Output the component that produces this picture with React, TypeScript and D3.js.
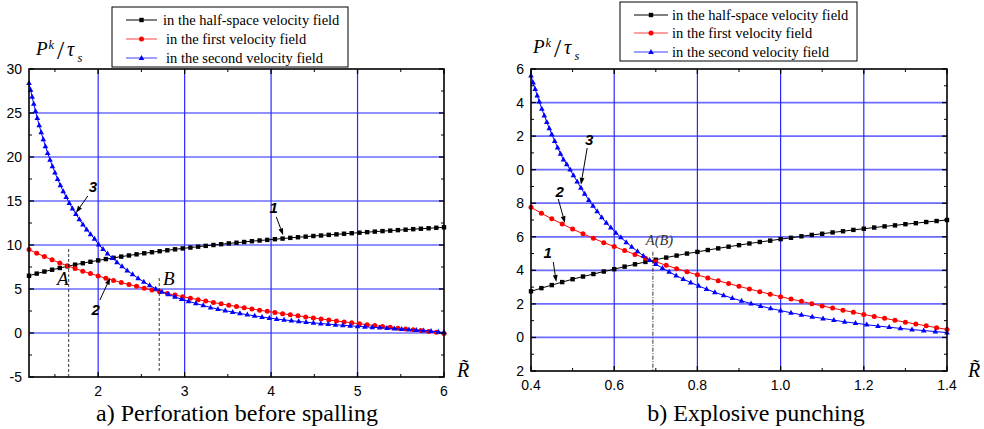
import React from "react";
import * as d3 from "d3";

// ---------- DATA ----------
const L_X = [1.2, 1.289, 1.378, 1.467, 1.556, 1.644, 1.733, 1.822, 1.911, 2.0, 2.089, 2.178, 2.267, 2.356, 2.444, 2.533, 2.622, 2.711, 2.8, 2.889, 2.978, 3.067, 3.156, 3.244, 3.333, 3.422, 3.511, 3.6, 3.689, 3.778, 3.867, 3.956, 4.044, 4.133, 4.222, 4.311, 4.4, 4.489, 4.578, 4.667, 4.756, 4.844, 4.933, 5.022, 5.111, 5.2, 5.289, 5.378, 5.467, 5.556, 5.644, 5.733, 5.822, 5.911, 6.0];
const L_HALF = [6.5, 6.75, 6.98, 7.19, 7.39, 7.58, 7.76, 7.93, 8.09, 8.25, 8.4, 8.54, 8.68, 8.81, 8.94, 9.06, 9.18, 9.29, 9.4, 9.51, 9.61, 9.71, 9.81, 9.9, 10.0, 10.09, 10.18, 10.26, 10.34, 10.43, 10.51, 10.58, 10.66, 10.73, 10.81, 10.88, 10.95, 11.02, 11.08, 11.15, 11.21, 11.28, 11.34, 11.4, 11.46, 11.52, 11.58, 11.63, 11.69, 11.74, 11.8, 11.85, 11.9, 11.96, 12.01];
const L_FIRST = [9.5, 9.07, 8.68, 8.31, 7.96, 7.64, 7.33, 7.03, 6.75, 6.48, 6.23, 5.98, 5.74, 5.52, 5.3, 5.09, 4.88, 4.69, 4.5, 4.31, 4.13, 3.96, 3.79, 3.63, 3.47, 3.31, 3.16, 3.01, 2.87, 2.73, 2.59, 2.46, 2.33, 2.2, 2.07, 1.95, 1.83, 1.71, 1.6, 1.48, 1.37, 1.26, 1.16, 1.05, 0.95, 0.84, 0.74, 0.65, 0.55, 0.45, 0.36, 0.27, 0.18, 0.09, -0.05];
const L_X2 = [1.2, 1.218, 1.236, 1.255, 1.275, 1.296, 1.318, 1.341, 1.365, 1.39, 1.416, 1.443, 1.471, 1.5, 1.531, 1.563, 1.596, 1.63, 1.666, 1.703, 1.742, 1.782, 1.824, 1.867, 1.912, 1.958, 2.006, 2.056, 2.108, 2.162, 2.218, 2.276, 2.336, 2.398, 2.462, 2.528, 2.596, 2.666, 2.738, 2.812, 2.888, 2.966, 3.045, 3.13, 3.215, 3.3, 3.385, 3.47, 3.555, 3.64, 3.725, 3.81, 3.895, 3.98, 4.065, 4.15, 4.235, 4.32, 4.405, 4.49, 4.575, 4.66, 4.745, 4.83, 4.915, 5.0, 5.085, 5.17, 5.255, 5.34, 5.425, 5.51, 5.595, 5.68, 5.765, 5.85, 5.935, 6.0];
const L_SECOND = [28.4, 27.64, 26.84, 26.03, 25.22, 24.41, 23.6, 22.8, 22.0, 21.22, 20.45, 19.69, 18.95, 18.22, 17.49, 16.78, 16.1, 15.43, 14.77, 14.14, 13.51, 12.91, 12.32, 11.76, 11.22, 10.69, 10.05, 9.52, 9.02, 8.52, 8.04, 7.56, 7.1, 6.66, 6.22, 5.81, 5.41, 5.03, 4.68, 4.38, 4.1, 3.84, 3.6, 3.36, 3.13, 2.9, 2.72, 2.54, 2.38, 2.22, 2.08, 1.94, 1.82, 1.7, 1.59, 1.49, 1.4, 1.31, 1.23, 1.15, 1.08, 1.01, 0.94, 0.88, 0.82, 0.76, 0.7, 0.65, 0.6, 0.55, 0.5, 0.45, 0.4, 0.34, 0.28, 0.21, 0.13, 0.06];

const R_X = [0.4, 0.425, 0.45, 0.475, 0.5, 0.525, 0.55, 0.575, 0.6, 0.625, 0.65, 0.675, 0.7, 0.725, 0.75, 0.775, 0.8, 0.825, 0.85, 0.875, 0.9, 0.925, 0.95, 0.975, 1.0, 1.025, 1.05, 1.075, 1.1, 1.125, 1.15, 1.175, 1.2, 1.225, 1.25, 1.275, 1.3, 1.325, 1.35, 1.375, 1.4];
const R_HALF = [2.75, 2.94, 3.12, 3.3, 3.47, 3.63, 3.78, 3.93, 4.07, 4.22, 4.36, 4.5, 4.63, 4.76, 4.88, 5.0, 5.1, 5.21, 5.31, 5.41, 5.5, 5.6, 5.69, 5.77, 5.86, 5.94, 6.03, 6.11, 6.18, 6.26, 6.33, 6.41, 6.48, 6.55, 6.62, 6.68, 6.75, 6.81, 6.88, 6.94, 7.0];
const R_FIRST = [7.76, 7.4, 7.07, 6.76, 6.46, 6.18, 5.91, 5.65, 5.42, 5.18, 4.95, 4.72, 4.51, 4.3, 4.1, 3.91, 3.73, 3.55, 3.38, 3.21, 3.05, 2.89, 2.73, 2.58, 2.43, 2.29, 2.15, 2.01, 1.88, 1.75, 1.62, 1.5, 1.37, 1.25, 1.14, 1.02, 0.91, 0.8, 0.69, 0.58, 0.48];
const R_X2 = [0.4, 0.405, 0.41, 0.415, 0.42, 0.426, 0.432, 0.438, 0.444, 0.45, 0.457, 0.464, 0.471, 0.478, 0.486, 0.494, 0.502, 0.511, 0.52, 0.529, 0.539, 0.549, 0.559, 0.57, 0.581, 0.592, 0.604, 0.616, 0.629, 0.642, 0.656, 0.67, 0.685, 0.7, 0.716, 0.732, 0.749, 0.766, 0.784, 0.803, 0.822, 0.842, 0.863, 0.884, 0.906, 0.929, 0.952, 0.976, 1.0, 1.025, 1.05, 1.076, 1.102, 1.128, 1.154, 1.18, 1.207, 1.234, 1.261, 1.288, 1.316, 1.344, 1.372, 1.4];
const R_SECOND = [15.6, 15.19, 14.8, 14.42, 14.05, 13.63, 13.22, 12.83, 12.46, 12.1, 11.7, 11.32, 10.95, 10.6, 10.32, 10.0, 9.66, 9.29, 8.91, 8.56, 8.19, 7.84, 7.51, 7.16, 6.83, 6.54, 6.24, 5.96, 5.67, 5.4, 5.13, 4.87, 4.61, 4.37, 4.13, 3.91, 3.68, 3.48, 3.27, 3.07, 2.88, 2.69, 2.51, 2.34, 2.18, 2.02, 1.87, 1.73, 1.6, 1.47, 1.35, 1.23, 1.13, 1.03, 0.93, 0.85, 0.76, 0.68, 0.61, 0.54, 0.47, 0.41, 0.35, 0.29];

const L_Y_TICKS = [-5, 0, 5, 10, 15, 20, 25, 30];
const L_Y_MINOR = [-2.5, 2.5, 7.5, 12.5, 17.5, 22.5, 27.5];
const L_X_TICKS = [2, 3, 4, 5, 6];
const L_X_MINOR = [1.5, 2.5, 3.5, 4.5, 5.5];
const L_X_LABELS = ["2", "3", "4", "5", "6"];
const L_Y_LABELS = ["-5", "0", "5", "10", "15", "20", "25", "30"];

const R_Y_TICKS = [-2, 0, 2, 4, 6, 8, 10, 12, 14, 16];
const R_Y_MINOR = [-1, 1, 3, 5, 7, 9, 11, 13, 15];
const R_Y_LABELS = ["2", "0", "2", "4", "6", "8", "0", "2", "4", "6"];
const R_X_TICKS = [0.4, 0.6, 0.8, 1.0, 1.2, 1.4];
const R_X_MINOR = [0.5, 0.7, 0.9, 1.1, 1.3];
const R_X_LABELS = ["0.4", "0.6", "0.8", "1.0", "1.2", "1.4"];

const LEGEND_LABELS = ["in the half-space velocity field", "in the first velocity field", "in the second velocity field"];
const TITLES = ["a) Perforation before spalling", "b) Explosive punching"];

const COLORS = ["#000000", "#ff0000", "#0000ff"];
const MARKERS = ["square", "circle", "triangle"];

const SERIF = "Liberation Serif";
const SANS = "Liberation Sans";

function Marker({ type, x, y, color }: { type: string; x: number; y: number; color: string }) {
  if (type === "square") return <rect x={x - 2.2} y={y - 2.2} width={4.4} height={4.4} fill={color} />;
  if (type === "circle") return <circle cx={x} cy={y} r={2.5} fill={color} />;
  return <path d={`M${x},${y - 3.1}L${x + 2.8},${y + 1.9}L${x - 2.8},${y + 1.9}Z`} fill={color} />;
}

function Arrow({ x1, y1, x2, y2 }: { x1: number; y1: number; x2: number; y2: number }) {
  const ang = Math.atan2(y2 - y1, x2 - x1);
  const L = 7, W = 2.4;
  const bx = x2 - L * Math.cos(ang), by = y2 - L * Math.sin(ang);
  const px = -Math.sin(ang) * W, py = Math.cos(ang) * W;
  return (
    <g>
      <line x1={x1} y1={y1} x2={bx} y2={by} stroke="#000" strokeWidth={1} />
      <path d={`M${x2},${y2}L${bx + px},${by + py}L${bx - px},${by - py}Z`} fill="#000" />
    </g>
  );
}

type PanelProps = {
  x0: number; x1: number; y0: number; y1: number;
  xDomain: [number, number]; yDomain: [number, number];
  xsList: number[][]; series: number[][];
  xTicks: number[]; xMinor: number[]; xLabels: string[];
  yTicks: number[]; yMinor: number[]; yLabels: string[];
  gridX: number[]; gridY: number[];
  xLabelDy: number;
  legend: { x: number; y: number; w: number; h: number; rows: number[]; lx0: number; lx1: number; tx: number[] };
  ylab: { x: number; y: number };
  rlab: { x: number; y: number };
  title: string; titleX: number;
  annots: (x: d3.ScaleLinear<number, number>, y: d3.ScaleLinear<number, number>) => React.ReactNode;
};

function Panel(p: PanelProps) {
  const x = d3.scaleLinear().domain(p.xDomain).range([p.x0, p.x1]);
  const y = d3.scaleLinear().domain(p.yDomain).range([p.y1, p.y0]);
  const lx = p.ylab.x, ly = p.ylab.y;
  return (
    <g>
      {p.gridY.map((v) => (
        <line key={"gy" + v} x1={p.x0} x2={p.x1} y1={y(v)} y2={y(v)} stroke="#6b6bff" strokeWidth={1.7} />
      ))}
      {p.gridX.map((v) => (
        <line key={"gx" + v} x1={x(v)} x2={x(v)} y1={p.y0} y2={p.y1} stroke="#2a2aff" strokeWidth={1.2} />
      ))}
      {p.series.map((s, si) => {
        const xs = p.xsList[si];
        const line = d3.line<number>().x((_, i) => x(xs[i])).y((d) => y(d));
        return (
          <g key={"s" + si}>
            <path d={line(s) || ""} fill="none" stroke={COLORS[si]} strokeWidth={1} />
            {s.map((v, i) => (
              <Marker key={i} type={MARKERS[si]} x={x(xs[i])} y={y(v)} color={COLORS[si]} />
            ))}
          </g>
        );
      })}
      {p.annots(x, y)}
      <rect x={p.x0} y={p.y0} width={p.x1 - p.x0} height={p.y1 - p.y0} fill="none" stroke="#000" strokeWidth={1.6} />
      {p.xTicks.map((v) => (
        <g key={"xt" + v}>
          <line x1={x(v)} x2={x(v)} y1={p.y1} y2={p.y1 - 5} stroke="#000" strokeWidth={1.3} />
          <line x1={x(v)} x2={x(v)} y1={p.y0} y2={p.y0 + 5} stroke="#000" strokeWidth={1.3} />
        </g>
      ))}
      {p.xMinor.map((v) => (
        <g key={"xm" + v}>
          <line x1={x(v)} x2={x(v)} y1={p.y1} y2={p.y1 - 3} stroke="#000" strokeWidth={1} />
          <line x1={x(v)} x2={x(v)} y1={p.y0} y2={p.y0 + 3} stroke="#000" strokeWidth={1} />
        </g>
      ))}
      {p.yTicks.map((v) => (
        <g key={"yt" + v}>
          <line x1={p.x0} x2={p.x0 + 5} y1={y(v)} y2={y(v)} stroke="#000" strokeWidth={1.3} />
          <line x1={p.x1} x2={p.x1 - 5} y1={y(v)} y2={y(v)} stroke="#000" strokeWidth={1.3} />
        </g>
      ))}
      {p.yMinor.map((v) => (
        <g key={"ym" + v}>
          <line x1={p.x0} x2={p.x0 + 3} y1={y(v)} y2={y(v)} stroke="#000" strokeWidth={1} />
          <line x1={p.x1} x2={p.x1 - 3} y1={y(v)} y2={y(v)} stroke="#000" strokeWidth={1} />
        </g>
      ))}
      {p.xTicks.map((v, i) => (
        <text key={"xl" + v} x={x(v)} y={p.y1 + p.xLabelDy} textAnchor="middle" fontFamily={SANS} fontSize={14} fill="#000">
          {p.xLabels[i]}
        </text>
      ))}
      {p.yTicks.map((v, i) => (
        <text key={"yl" + v} x={p.x0 - 7} y={y(v) + 5} textAnchor="end" fontFamily={SANS} fontSize={14} fill="#000">
          {p.yLabels[i]}
        </text>
      ))}
      <text fontFamily={SERIF} fontStyle="italic" fill="#000">
        <tspan x={lx} y={ly} fontSize={19}>P</tspan>
        <tspan x={lx + 12.5} y={ly - 6} fontSize={12.5}>k</tspan>
        <tspan x={lx + 21} y={ly + 4} fontSize={26} fontStyle="normal">/</tspan>
        <tspan x={lx + 31} y={ly + 1} fontSize={20}>τ</tspan>
        <tspan x={lx + 41.5} y={ly + 7} fontSize={12.5}>s</tspan>
      </text>
      <text x={p.rlab.x} y={p.rlab.y} fontFamily={SERIF} fontStyle="italic" fontSize={20} fill="#000">{"R\u0303"}</text>
      <rect x={p.legend.x} y={p.legend.y} width={p.legend.w} height={p.legend.h} fill="#fff" stroke="#000" strokeWidth={1} />
      {LEGEND_LABELS.map((lab, i) => (
        <g key={"lg" + i}>
          <line x1={p.legend.lx0} x2={p.legend.lx1} y1={p.legend.rows[i]} y2={p.legend.rows[i]} stroke={COLORS[i]} strokeWidth={1} opacity={i === 0 ? 1 : 0.75} />
          <Marker type={MARKERS[i]} x={(p.legend.lx0 + p.legend.lx1) / 2} y={p.legend.rows[i]} color={COLORS[i]} />
          <text x={p.legend.tx[i]} y={p.legend.rows[i] + 5} fontFamily={SERIF} fontSize={14.5} fill="#000">{lab}</text>
        </g>
      ))}
      <text x={p.titleX} y={421} textAnchor="middle" fontFamily={SERIF} fontSize={24} fill="#000">{p.title}</text>
    </g>
  );
}

export default function App() {
  const numStyle = { fontFamily: SANS, fontStyle: "italic" as const, fontWeight: "bold" as const, fontSize: 15 };
  return (
    <svg width={984} height={429} style={{ position: "absolute", left: 0, top: 0, background: "#fff" }}>
      <rect width={984} height={429} fill="#fff" />
      <Panel
        x0={29} x1={444} y0={69} y1={377}
        xDomain={[1.2, 6]} yDomain={[-5, 30]}
        xsList={[L_X, L_X, L_X2]} series={[L_HALF, L_FIRST, L_SECOND]}
        xTicks={L_X_TICKS} xMinor={L_X_MINOR} xLabels={L_X_LABELS}
        yTicks={L_Y_TICKS} yMinor={L_Y_MINOR} yLabels={L_Y_LABELS}
        gridX={[2, 3, 4, 5]} gridY={[0, 5, 10, 15, 20, 25]}
        xLabelDy={19}
        legend={{ x: 112, y: 7, w: 236, h: 60, rows: [20, 39, 58], lx0: 126, lx1: 157, tx: [163, 166, 166] }}
        ylab={{ x: 36, y: 55 }}
        rlab={{ x: 457, y: 377 }}
        title={TITLES[0]} titleX={237}
        annots={(x, y) => (
          <g>
            <line x1={x(1.659)} x2={x(1.659)} y1={y(9.55)} y2={y(-5)} stroke="#000" strokeWidth={0.8} strokeDasharray="3,2" />
            <line x1={x(2.706)} x2={x(2.706)} y1={y(6.25)} y2={y(-4.3)} stroke="#000" strokeWidth={0.8} strokeDasharray="3,2" />
            <text x={x(1.524)} y={y(5.45)} fontFamily={SERIF} fontStyle="italic" fontSize={19}>A</text>
            <text x={x(2.749)} y={y(5.45)} fontFamily={SERIF} fontStyle="italic" fontSize={19}>B</text>
            <text x={x(1.94)} y={y(16.0)} textAnchor="middle" {...numStyle}>3</text>
            <Arrow x1={x(1.88)} y1={y(15.57)} x2={x(1.743)} y2={y(13.64)} />
            <text x={x(4.03)} y={y(13.6)} textAnchor="middle" {...numStyle}>1</text>
            <Arrow x1={x(4.06)} y1={y(13.2)} x2={x(4.14)} y2={y(11.1)} />
            <text x={x(1.97)} y={y(2.05)} textAnchor="middle" {...numStyle}>2</text>
            <Arrow x1={x(2.02)} y1={y(3.75)} x2={x(2.14)} y2={y(6.3)} />
          </g>
        )}
      />
      <Panel
        x0={531} x1={947} y0={69} y1={371}
        xDomain={[0.4, 1.4]} yDomain={[-2, 16]}
        xsList={[R_X, R_X, R_X2]} series={[R_HALF, R_FIRST, R_SECOND]}
        xTicks={R_X_TICKS} xMinor={R_X_MINOR} xLabels={R_X_LABELS}
        yTicks={R_Y_TICKS} yMinor={R_Y_MINOR} yLabels={R_Y_LABELS}
        gridX={[0.6, 0.8, 1.0, 1.2]} gridY={[0, 2, 4, 6, 8, 10, 12, 14]}
        xLabelDy={19}
        legend={{ x: 620, y: 2, w: 237, h: 59, rows: [15, 33, 52], lx0: 634, lx1: 668, tx: [672, 672, 672] }}
        ylab={{ x: 533, y: 53 }}
        rlab={{ x: 968, y: 377 }}
        title={TITLES[1]} titleX={756}
        annots={(x, y) => (
          <g>
            <line x1={x(0.693)} x2={x(0.693)} y1={y(5.11)} y2={y(-2)} stroke="#000" strokeWidth={0.8} strokeDasharray="4,1.5,1,1.5" />
            <text x={x(0.676)} y={y(5.51)} fontFamily={SERIF} fontStyle="italic" fontSize={14.5} fill="#333">A(B)</text>
            <text x={x(0.54)} y={y(11.47)} textAnchor="middle" {...numStyle}>3</text>
            <Arrow x1={x(0.535)} y1={y(11.29)} x2={x(0.52)} y2={y(9.1)} />
            <text x={x(0.469)} y={y(8.37)} textAnchor="middle" {...numStyle}>2</text>
            <Arrow x1={x(0.4655)} y1={y(8.25)} x2={x(0.4816)} y2={y(6.82)} />
            <text x={x(0.44)} y={y(4.74)} textAnchor="middle" {...numStyle}>1</text>
            <Arrow x1={x(0.4535)} y1={y(4.5)} x2={x(0.4607)} y2={y(3.3)} />
          </g>
        )}
      />
    </svg>
  );
}
